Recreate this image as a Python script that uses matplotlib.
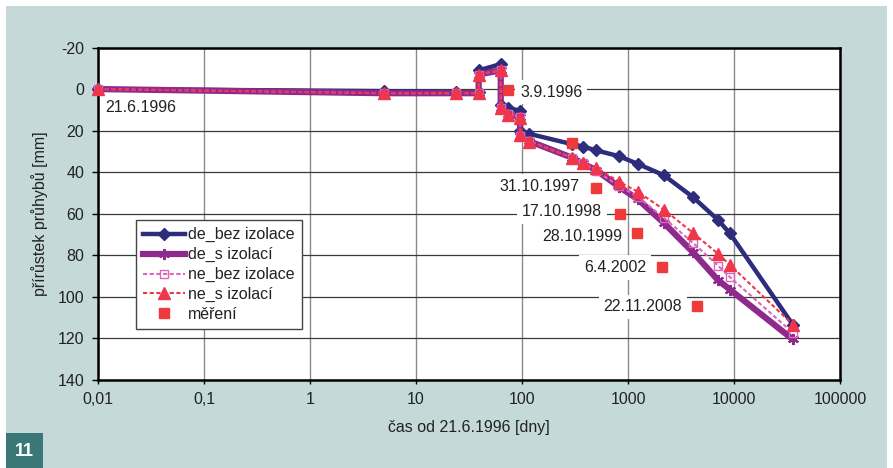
import matplotlib as mpl
mpl.use('Agg')
import matplotlib.pyplot as plt
from matplotlib.patches import Rectangle

plt.rcParams['font.family'] = ['Liberation Sans', 'DejaVu Sans']
plt.rcParams['axes.unicode_minus'] = False

# time since 21.6.1996 [days]
DAYS_EARLY = [0.01, 5, 24, 39, 39, 63, 63, 74, 96, 96, 116]
DAYS_LATE = [296, 376, 500, 822, 1235, 2185, 4100, 7080, 9160, 36000]

# deflection increment [mm]
DE_BEZ = [0, 1, 1.5, 1.5, -9, -12, 7.5, 9, 10.5, 20, 21.5,
          26.5, 27.7, 29.5, 32.3, 36, 41.5, 52, 63, 69.5, 113.5]
DE_S = [0, 2, 2, 2, -7, -9, 9, 12, 13.5, 22.5, 25,
        33, 35.8, 39, 47, 53, 64.5, 78.5, 92, 96.5, 120.5]
NE_BEZ = [0, 2, 2, 2, -7, -9, 9, 12, 13.5, 22.5, 25,
          33, 35.6, 39.5, 46.5, 51.8, 62, 74, 85, 90.5, 117.3]
NE_S = [0, 2, 2, 2, -7, -9.4, 9, 12.3, 13.7, 22, 25.3,
        33, 35.4, 37.8, 44.6, 49.4, 58, 69.2, 79.3, 84.6, 113.4]

MEAS_DAYS = [74, 296, 500, 840, 1220, 2100, 4500]
MEAS_VALUES = [0.5, 25.8, 47.5, 60, 69.2, 85.5, 104.3]
MEAS_LABELS = ['3.9.1996', None, '31.10.1997', '17.10.1998', '28.10.1999',
               '6.4.2002', '22.11.2008']

SERIES_NAMES = ['de_bez izolace', 'de_s izolací', 'ne_bez izolace', 'ne_s izolací', 'měření']

X_TICKS = [0.01, 0.1, 1, 10, 100, 1000, 10000, 100000]
X_TICK_LABELS = ['0,01', '0,1', '1', '10', '100', '1000', '10000', '100000']
Y_TICKS = [-20, 0, 20, 40, 60, 80, 100, 120, 140]

X_LABEL = 'čas od 21.6.1996 [dny]'
Y_LABEL = 'přírůstek průhybů [mm]'

BG = '#c5d9d8'
TEXT = '#222222'
FS = 11.5

fig = plt.figure(figsize=(8.93, 4.68), dpi=100, facecolor=BG)
W, H = 893.0, 468.0
# white page margins at top, left and right
for x0, y0, w, h in [(0, 462, 893, 6), (0, 0, 6, 468), (887, 0, 6, 468)]:
    fig.patches.append(Rectangle((x0 / W, y0 / H), w / W, h / H, transform=fig.transFigure,
                                 facecolor='white', edgecolor='none', zorder=-5))
fig.patches.append(Rectangle((6 / W, 0), 37 / W, 35 / H, transform=fig.transFigure,
                             facecolor='#3a7878', edgecolor='none', zorder=-5))
fig.text(24.5 / W, 17 / H, '11', color='white', fontsize=13, fontweight='bold',
         ha='center', va='center')

ax = fig.add_axes([98 / W, 88 / H, 742 / W, 332.5 / H])
ax.set_facecolor('white')

dash = (0, (2, 1.2))
days = DAYS_EARLY + DAYS_LATE
ax.plot(days, DE_BEZ, color='#2e2c7c', lw=3.2, marker='D', ms=6,
        label=SERIES_NAMES[0], zorder=3, clip_on=False)
ax.plot(days, DE_S, color='#8e2a8c', lw=4.5, marker=(6, 2, 0), ms=8, mew=1.5,
        label=SERIES_NAMES[1], zorder=3, clip_on=False)
ax.plot(days, NE_BEZ, color='#dd66bb', lw=1.5, ls=dash, marker='s', ms=6,
        mfc='none', mec='#dd66bb', mew=1.0, label=SERIES_NAMES[2], zorder=3, clip_on=False)
ax.plot(days, NE_S, color='#f0364a', lw=1.5, ls=dash, marker='^', ms=8,
        label=SERIES_NAMES[3], zorder=3, clip_on=False)
ax.plot(MEAS_DAYS, MEAS_VALUES, ls='none', marker='s', ms=7, color='#ee3a3a',
        label=SERIES_NAMES[4], zorder=4)

# date labels next to the measured points
offsets = {'3.9.1996': (12, -2, 'left'), '31.10.1997': (-17, 1, 'right'),
           '17.10.1998': (-18, 2, 'right'), '28.10.1999': (-15, -4, 'right'),
           '6.4.2002': (-16, -1, 'right'), '22.11.2008': (-15, -1, 'right')}
box = dict(boxstyle='square,pad=0.3', fc='white', ec='none')
for d, v, lab in zip(MEAS_DAYS, MEAS_VALUES, MEAS_LABELS):
    if lab is None:
        continue
    dx, dy, ha = offsets[lab]
    ax.annotate(lab, xy=(d, v), xytext=(dx, dy), textcoords='offset pixels',
                ha=ha, va='center', fontsize=FS, color=TEXT, bbox=box, zorder=2)
ax.annotate('21.6.1996', xy=(DAYS_EARLY[0], 0), xytext=(7, -18.5),
            textcoords='offset pixels', ha='left', va='center', fontsize=FS,
            color=TEXT, bbox=box, zorder=2)

ax.set_xscale('log')
ax.set_xlim(0.01, 100000)
ax.set_ylim(140, -20)
ax.set_xticks(X_TICKS)
ax.set_xticklabels(X_TICK_LABELS)
ax.xaxis.set_minor_locator(mpl.ticker.NullLocator())
ax.set_yticks(Y_TICKS)
ax.tick_params(axis='both', labelsize=FS, labelcolor=TEXT, color='black')
ax.tick_params(axis='y', length=4, width=1, pad=6)
ax.tick_params(axis='x', length=3, width=1, pad=6)

ax.set_axisbelow(True)
ax.yaxis.grid(True, color='#3a3a3a', lw=0.9)
ax.xaxis.grid(True, color='#8a8a8a', lw=1.0)
for s in ax.spines.values():
    s.set_linewidth(1.8)
    s.set_color('black')

ax.set_xlabel(X_LABEL, fontsize=FS, color=TEXT)
ax.xaxis.set_label_coords(0.5, -0.12)
ax.set_ylabel(Y_LABEL, fontsize=FS, color=TEXT)
ax.yaxis.set_label_coords(-0.068, 0.5)

leg = ax.legend(loc='upper left', bbox_to_anchor=(0.051, 0.481), borderaxespad=0,
                fontsize=FS, handlelength=2.6, handletextpad=0.2, labelspacing=0.3,
                borderpad=0.45, numpoints=1, fancybox=False, framealpha=1,
                edgecolor='#444444')
leg.get_frame().set_linewidth(1.0)
for t in leg.get_texts():
    t.set_color(TEXT)

fig.savefig('out.png', dpi=100, facecolor=fig.get_facecolor())
